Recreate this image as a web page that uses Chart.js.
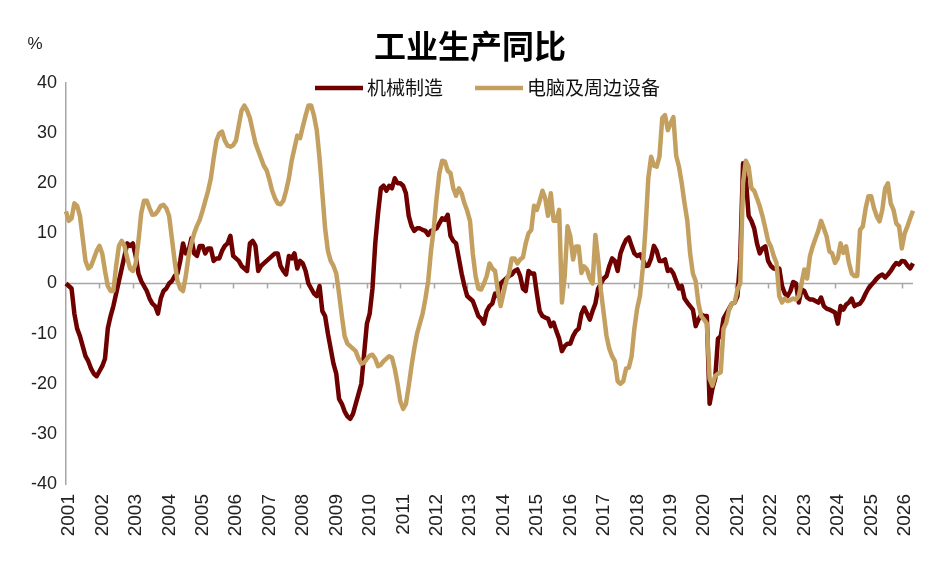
<!DOCTYPE html>
<html>
<head>
    <meta charset="utf-8">
    <title>工业生产同比</title>
    <script src="https://cdn.jsdelivr.net/npm/chart.js"></script>
    <style>
        body { margin: 0; background: #fff; }
        #wrap { width: 940px; height: 561px; }
    </style>
</head>
<body>
    <div id="wrap"><canvas id="myChart" width="940" height="561"></canvas></div>

    <script>
        // Años del eje X (una etiqueta por enero)
        const years = ['2001','2002','2003','2004','2005','2006','2007','2008','2009','2010','2011','2012','2013',
                       '2014','2015','2016','2017','2018','2019','2020','2021','2022','2023','2024','2025','2026'];
        const lastYearMonths = 5;   // 2026: ene-may

        // 机械制造, % yoy, mensual
        const machinery = [
            0, -0.5, -1, -6, -9, -10.5, -12.5, -14.5, -15.5, -17, -18, -18.5,          // 2001
            -17.5, -16.5, -15, -9, -6.5, -4.5, -2, 0.5, 3, 5.5, 8, 7.5,                 // 2002
            8, 5.5, 2, 0.5, -0.5, -1.5, -3, -4, -4.5, -6, -3, -1.5,                     // 2003
            -1, 0, 0.5, 1.5, 2, 4.5, 8, 6, 6.5, 9, 6, 5.5,                              // 2004
            7.5, 7.5, 6, 7, 7, 4.5, 5, 5, 6.5, 7.5, 8, 9.5,                             // 2005
            5.5, 5, 4.5, 3.5, 3, 2.5, 8, 8.5, 7.5, 2.5, 3.5, 4,                         // 2006
            4.5, 5, 5.5, 6, 6, 3.5, 2.5, 1.8, 5.5, 5, 6, 3,                             // 2007
            4.5, 4, 2.5, 0, -1, -2, -2.5, -0.5, -5.5, -6.5, -10, -13,                   // 2008
            -16, -18, -23, -24, -25.5, -26.5, -27, -26, -24, -22, -20, -14,             // 2009
            -8, -6, -1, 8, 14, 19, 19.5, 18.5, 19.5, 19, 21, 20,                        // 2010
            20, 19.5, 18, 13.5, 11.5, 10.5, 11, 11, 10.7, 10.5, 9.7, 10.5,              // 2011
            10.7, 11, 12, 13, 12.7, 13.7, 9.5, 8.5, 8, 5, 2, -0.5,                      // 2012
            -2.5, -3, -3.5, -5, -6.5, -7, -8, -5.5, -4.5, -4, -2, -2.5,                 // 2013
            0, 0.5, 1, 1.5, 1.8, 2.5, 2.8, 1.5, -1, -1.5, 2.5, 2,                       // 2014
            2, -2, -5.5, -6.5, -6.8, -7, -8.5, -7.8, -9.5, -11, -13.5, -12.5,           // 2015
            -12, -12, -10.5, -9.5, -9, -6, -4.8, -6, -7.2, -5.5, -4, -1,                // 2016
            0, 1, 1.5, 3.5, 5, 4.5, 2.5, 6, 7.5, 8.7, 9.2, 7.5,                         // 2017
            6, 5.5, 5.8, 4.8, 3.5, 3.6, 5, 7.5, 6.5, 4.5, 4.5, 4.8,                     // 2018
            2.5, 2.8, 2, 0.5, -1, -0.5, -3, -3.8, -4.5, -5.2, -8.5, -7.2,               // 2019
            -6.2, -6.5, -6.5, -24, -21, -19, -11, -10.5, -7, -6, -5, -4,                // 2020
            -3.8, -2.5, 5, 24, 21, 13.5, 12.5, 11, 8, 6, 7, 7.4,                        // 2021
            4.5, 3.5, 3, 2.8, 3, -0.5, -2, -2.5, -1.5, 0.3, 0, -3.8,                    // 2022
            -1.2, -1.5, -2.8, -3.2, -3.2, -3.5, -3.8, -2.8, -4.5, -5, -5.2, -5.5,       // 2023
            -5.8, -8, -4.5, -5.2, -4.2, -3.8, -3, -4.5, -4.2, -4, -3.2, -2,             // 2024
            -1, -0.3, 0.3, 1, 1.5, 1.8, 1.2, 1.8, 2.5, 3.4, 4.1, 3.8,                   // 2025
            4.5, 4.4, 3.6, 3, 4                                                         // 2026
        ];

        // 电脑及周边设备, % yoy, mensual
        const computers = [
            14.4, 12.5, 13, 16, 15.5, 13.5, 9, 4.5, 3, 3.5, 5, 6.5,                     // 2001
            7.5, 6, 2.5, -0.5, -1.5, -1.5, 3.5, 7.5, 8.5, 7.5, 5, 3,                    // 2002
            2.5, 4, 8.5, 14, 16.5, 16.5, 15, 13.7, 13.8, 14.5, 15.5, 15.7,              // 2003
            15, 13.5, 9, 4.5, 0.5, -1, -1.5, 1.5, 5.5, 8, 10, 11.5,                     // 2004
            12.7, 14.5, 16.5, 18.5, 21, 25, 28.5, 29.9, 30.3, 28.5, 27.5, 27.3,         // 2005
            27.6, 28.5, 31.5, 34.5, 35.5, 34.5, 33, 30.5, 28, 26.5, 25, 23.5,           // 2006
            22.6, 20.7, 18.5, 17, 16, 15.8, 16.5, 18.5, 21, 24.5, 27, 29.5,             // 2007
            29, 31.3, 33.5, 35.5, 35.5, 33.5, 30.6, 25, 18, 11, 6.5, 4.5,               // 2008
            3.5, 2, -2, -6.5, -10.5, -12, -12.5, -13, -13.5, -15, -16, -15.8,           // 2009
            -15, -14.4, -14.2, -15, -16.5, -16.2, -15.5, -15, -14.5, -14.8, -17, -20,   // 2010
            -23.5, -25, -24, -20.5, -16.5, -13, -10, -8, -6, -3, 0.5, 6.5,              // 2011
            11, 17, 22, 24.5, 24.3, 22.5, 22, 19, 17.5, 19, 18, 16,                     // 2012
            14.5, 12.5, 6, 1.5, -1, -1.2, 0, 1.5, 4, 3, 2.5, -1.5,                      // 2013
            -4.5, -2, 0.5, 2, 5, 5, 4, 4.8, 5.2, 8, 10, 10.7,                           // 2014
            15.5, 14.7, 16.5, 18.5, 17, 13.5, 18, 12.5, 12.5, 14.7, -3.8, 1.5,          // 2015
            11.4, 9.4, 4.8, 7.4, 7.4, 2.1, 3.4, 2.8, 1, 0, 9.7, 4.8,                    // 2016
            -1.5, -6, -10.5, -13, -14.5, -15.5, -19.5, -20, -19.5, -17, -16.8, -14.5,   // 2017
            -9, -5, -2.5, 3, 11, 21, 25.3, 23.5, 23.3, 25.3, 33, 33.6,                  // 2018
            30.6, 32, 33.2, 25.5, 23.3, 20, 16, 12.5, 6, 2, 0.5, -4,                    // 2019
            -6.5, -7.2, -8, -19, -20.4, -18.4, -18, -17.7, -9, -7.8, -5.2, -4,          // 2020
            -3.8, -1.2, 0, 20, 24.5, 23.3, 19, 18.5, 17, 15.4, 13.4, 11,                // 2021
            8.5, 7.4, 5.5, 4.1, -2.5, -3.8, -3, -3.5, -3.3, -3, -3.2, -2.5,             // 2022
            0, 2.8, 1, 5.4, 7.4, 9, 10.5, 12.5, 11, 9.4, 6.4, 6,                        // 2023
            4.1, 5, 8, 6.1, 7.4, 4.1, 2, 1.5, 1.5, 10.7, 11.4, 15,                      // 2024
            17.4, 17.4, 15, 13.4, 12.4, 14.7, 19, 20, 16, 14.7, 12, 11.4,               // 2025
            7, 10, 11.4, 13, 14.5                                                       // 2026
        ];

        const yTicks = [-40, -30, -20, -10, 0, 10, 20, 30, 40];

        const MAROON = '#6e0000';
        const GOLD = '#c3a060';

        // Categorías mensuales "YYYY-MM"
        const labels = [];
        years.forEach((y, i) => {
            const n = (i === years.length - 1) ? lastYearMonths : 12;
            for (let m = 1; m <= n; m++) labels.push(y + '-' + String(m).padStart(2, '0'));
        });

        // Línea de cero con marcas por año
        const zeroAxis = {
            id: 'zeroAxis',
            beforeDatasetsDraw(chart) {
                const { ctx, chartArea, scales } = chart;
                const y0 = scales.y.getPixelForValue(0);
                ctx.save();
                ctx.strokeStyle = '#a6a6a6';
                ctx.lineWidth = 1.5;
                ctx.beginPath();
                ctx.moveTo(chartArea.left, y0);
                ctx.lineTo(chartArea.right, y0);
                labels.forEach((l, i) => {
                    if (l.endsWith('-01') && i > 0) {
                        const x = Math.round(scales.x.getPixelForValue(i)) + 0.5;
                        ctx.moveTo(x, y0);
                        ctx.lineTo(x, y0 + 5);
                    }
                });
                ctx.stroke();
                ctx.restore();
            }
        };

        // Título, unidad y leyenda
        const header = {
            id: 'header',
            afterDraw(chart) {
                const { ctx } = chart;
                ctx.save();
                ctx.fillStyle = '#000';
                ctx.textBaseline = 'middle';
                ctx.textAlign = 'center';
                ctx.font = 'bold 32px "Noto Sans CJK SC"';
                ctx.fillText('工业生产同比', 470, 46);

                ctx.fillStyle = '#222';
                ctx.font = '17px "Liberation Sans Narrow", "Liberation Sans"';
                ctx.fillText('%', 35, 44);

                ctx.textAlign = 'left';
                ctx.font = '19px "Noto Sans CJK SC"';
                ctx.lineWidth = 4.5;
                const items = [
                    { x: 315, text: '机械制造', color: MAROON },
                    { x: 475, text: '电脑及周边设备', color: GOLD }
                ];
                items.forEach(it => {
                    ctx.strokeStyle = it.color;
                    ctx.beginPath();
                    ctx.moveTo(it.x, 88);
                    ctx.lineTo(it.x + 48, 88);
                    ctx.stroke();
                    ctx.fillStyle = '#111';
                    ctx.fillText(it.text, it.x + 52, 88);
                });
                ctx.restore();
            }
        };

        const ctx = document.getElementById('myChart').getContext('2d');
        new Chart(ctx, {
            type: 'line',
            data: {
                labels: labels,
                datasets: [
                    {
                        label: '机械制造',
                        data: machinery,
                        borderColor: MAROON,
                        borderWidth: 4.5,
                        borderJoinStyle: 'round',
                        pointRadius: 0,
                        tension: 0,
                        order: 2
                    },
                    {
                        label: '电脑及周边设备',
                        data: computers,
                        borderColor: GOLD,
                        borderWidth: 4.5,
                        borderJoinStyle: 'round',
                        pointRadius: 0,
                        tension: 0,
                        order: 1
                    }
                ]
            },
            options: {
                responsive: false,
                animation: false,
                layout: { padding: { top: 83, left: 10, right: 27, bottom: 0 } },
                plugins: {
                    legend: { display: false },
                    title: { display: false },
                    tooltip: { enabled: false }
                },
                scales: {
                    x: {
                        offset: false,
                        grid: { display: false, drawTicks: false },
                        border: { display: false },
                        afterFit(scale) { scale.height = 77; },
                        ticks: {
                            autoSkip: false,
                            minRotation: 90,
                            maxRotation: 90,
                            padding: 10,
                            labelOffset: 3,
                            color: '#222',
                            font: { family: 'Liberation Sans', size: 19 },
                            callback(value, index) {
                                const l = labels[index];
                                return l.endsWith('-01') ? l.slice(0, 4) : null;
                            }
                        }
                    },
                    y: {
                        min: -40,
                        max: 40,
                        afterFit(scale) { scale.width = 56; },
                        afterBuildTicks(scale) { scale.ticks = yTicks.map(v => ({ value: v })); },
                        grid: { display: false, drawTicks: false },
                        border: { display: true, color: '#a6a6a6', width: 1.5 },
                        ticks: {
                            padding: 9,
                            color: '#222',
                            font: { family: '"Liberation Sans Narrow", "Liberation Sans"', size: 18 }
                        }
                    }
                }
            },
            plugins: [zeroAxis, header]
        });
    </script>
</body>
</html>
